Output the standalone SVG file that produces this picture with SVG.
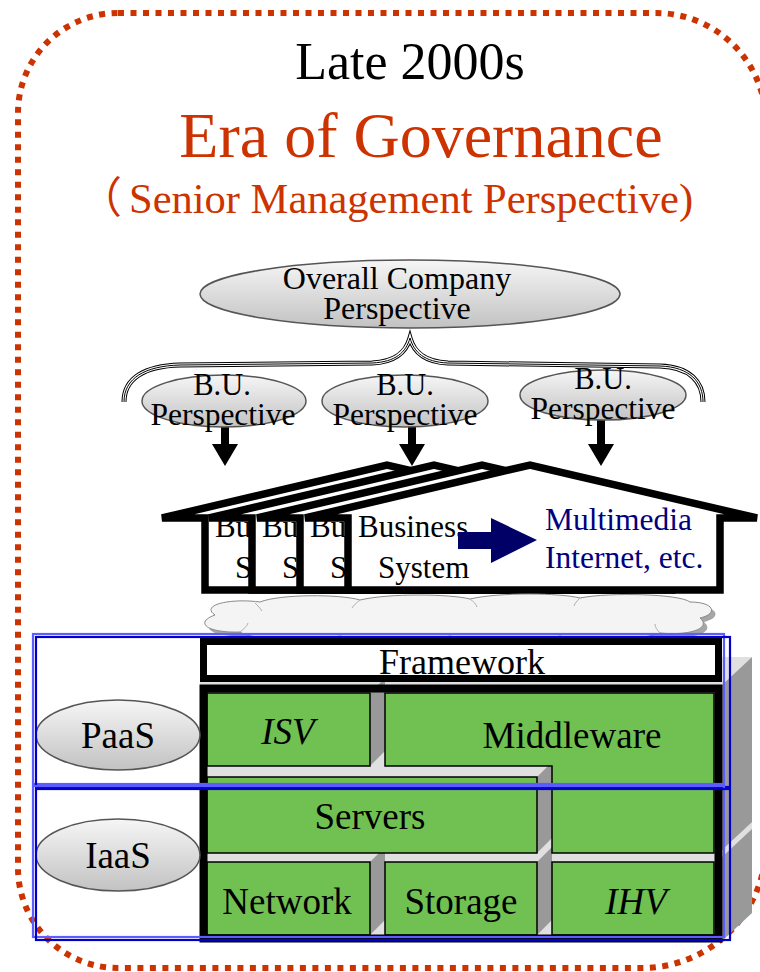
<svg xmlns="http://www.w3.org/2000/svg" width="760" height="972" viewBox="0 0 760 972">
<defs>
<linearGradient id="eg" x1="0" y1="0" x2="0" y2="1">
<stop offset="0" stop-color="#f6f6f6"/>
<stop offset="1" stop-color="#c2c2c2"/>
</linearGradient>
<style>
.t{font-family:"Liberation Serif","Times New Roman",serif;fill:#000}
.red{fill:#cc3300}
.navy{fill:#000080}
.ell{fill:url(#eg);stroke:#555;stroke-width:1.5}
.house{fill:#fff;stroke:#000;stroke-width:7.5;stroke-linejoin:miter}
.grn{fill:#71c152;stroke:#000;stroke-width:1.5}
.side{fill:#999}
.top{fill:#e0e0e0}
.lb{fill:none;stroke:#5c5cff;stroke-width:2.2}
.db{fill:none;stroke:#0000c8;stroke-width:2.2}
.arr{fill:#000}
</style>
</defs>
<rect width="760" height="972" fill="#fff"/>

<!-- dotted border -->
<path id="border" d="M118,13 H656 A110,110 0 0 1 766,123 V848 A124,124 0 0 1 642,968 H118 A100,100 0 0 1 18,868 V113 A100,100 0 0 1 118,13 Z" fill="none" stroke="#cc3300" stroke-width="6" stroke-dasharray="6 6.5"/>

<!-- titles -->
<g id="title">
<text class="t" x="410" y="79" font-size="52" text-anchor="middle">Late 2000s</text>
<text class="t red" x="421" y="157" font-size="64" text-anchor="middle">Era of Governance</text>
<text x="79" y="213" font-size="43" font-family="Noto Sans CJK JP,sans-serif" fill="#cc3300">（</text>
<text class="t red" x="129" y="213" font-size="42.5">Senior Management Perspective)</text>
</g>

<!-- connectors -->
<g id="connectors">
<g fill="none" stroke-linecap="butt">
<path d="M124,402 C124,378 145,366 180,365 L372,363 C396,362 406,352 410,338 C414,352 424,362 448,363 L660,366 C690,367 703,382 703,402" stroke="#000" stroke-width="5"/>
<path d="M124,402 C124,378 145,366 180,365 L372,363 C396,362 406,352 410,338 C414,352 424,362 448,363 L660,366 C690,367 703,382 703,402" stroke="#fff" stroke-width="3"/>
<path d="M124,402 C124,378 145,366 180,365 L372,363 C396,362 406,352 410,338 C414,352 424,362 448,363 L660,366 C690,367 703,382 703,402" stroke="#000" stroke-width="1"/>
</g>
<path class="arr" d="M221,425 h8 v19 h9 l-13,22 l-13,-22 h9 Z"/>
<path class="arr" d="M408,425 h8 v19 h9 l-13,22 l-13,-22 h9 Z"/>
<path class="arr" d="M597,420 h8 v24 h9 l-13,22 l-13,-22 h9 Z"/>
</g>

<!-- perspectives -->
<g id="overall">
<ellipse class="ell" cx="410" cy="294" rx="210" ry="34"/>
<text class="t" x="397" y="289" font-size="32" text-anchor="middle">Overall Company</text>
<text class="t" x="397" y="319" font-size="32" text-anchor="middle">Perspective</text>
</g>
<g id="bu1">
<ellipse class="ell" cx="224" cy="401" rx="82" ry="26"/>
<text class="t" x="222" y="395" font-size="30.5" text-anchor="middle">B.U.</text>
<text class="t" x="223" y="425" font-size="31.5" text-anchor="middle">Perspective</text>
</g>
<g id="bu2">
<ellipse class="ell" cx="405" cy="401" rx="83" ry="26"/>
<text class="t" x="405" y="395" font-size="30.5" text-anchor="middle">B.U.</text>
<text class="t" x="405" y="425" font-size="31.5" text-anchor="middle">Perspective</text>
</g>
<g id="bu3">
<ellipse class="ell" cx="603" cy="395" rx="83" ry="25"/>
<text class="t" x="603" y="389" font-size="30.5" text-anchor="middle">B.U.</text>
<text class="t" x="603" y="419" font-size="31.5" text-anchor="middle">Perspective</text>
</g>

<!-- houses -->
<g id="houses">
<g id="house1">
<path class="house" d="M162,518 L387,465 L614,518 L577,518 L577,590 L205,590 L205,518 Z"/>
<text class="t" x="215" y="537" font-size="31">Bu</text>
<text class="t" x="235" y="578" font-size="31">S</text>
</g>
<g id="house2">
<path class="house" d="M209,518 L434,465 L661,518 L624,518 L624,590 L252,590 L252,518 Z"/>
<text class="t" x="262" y="537" font-size="31">Bu</text>
<text class="t" x="282" y="578" font-size="31">S</text>
</g>
<g id="house3">
<path class="house" d="M257,518 L482,465 L709,518 L672,518 L672,590 L300,590 L300,518 Z"/>
<text class="t" x="310" y="537" font-size="31">Bu</text>
<text class="t" x="330" y="578" font-size="31">S</text>
</g>
<g id="house4">
<path class="house" d="M305,518 L530,465 L757,518 L720,518 L720,590 L348,590 L348,518 Z"/>
<text class="t" x="358" y="537" font-size="31">Business</text>
<text class="t" x="378" y="578" font-size="31">System</text>
<path d="M458,532 H491 V518 L537,540 L491,563 V549 H458 Z" fill="#000066"/>
<text class="t navy" x="545" y="530" font-size="31.5">Multimedia</text>
<text class="t navy" x="545" y="568" font-size="31.5">Internet, etc.</text>
</g>
</g>

<!-- cloud -->
<g id="cloud">
<path transform="translate(4,4)" fill="#a6a6a6" d="M215,615 C200,605 230,598 260,602 C280,594 340,594 360,600 C390,593 450,594 470,599 C500,592 560,593 580,598 C610,592 680,594 690,602 C715,602 718,614 700,618 C712,628 690,636 660,633 C640,641 580,642 560,636 C530,642 470,642 450,636 C420,642 360,642 340,636 C310,642 250,640 240,632 C205,633 195,622 215,615 Z"/>
<path fill="#f4f4f4" stroke="#8a8a8a" stroke-width="1" d="M215,615 C200,605 230,598 260,602 C280,594 340,594 360,600 C390,593 450,594 470,599 C500,592 560,593 580,598 C610,592 680,594 690,602 C715,602 718,614 700,618 C712,628 690,636 660,633 C640,641 580,642 560,636 C530,642 470,642 450,636 C420,642 360,642 340,636 C310,642 250,640 240,632 C205,633 195,622 215,615 Z"/>
<g fill="none" stroke="#b0b0b0" stroke-width="1">
<path d="M255,603 C258,606 260,608 262,611"/>
<path d="M360,600 C356,603 354,605 352,608"/>
<path d="M470,599 C474,602 476,604 477,607"/>
<path d="M580,598 C577,601 575,603 574,606"/>
<path d="M240,632 C244,629 247,626 248,623"/>
<path d="M660,633 C657,630 655,627 655,624"/>
</g>
</g>

<!-- extrusion of main stack -->
<g id="extrusion">
<rect class="top" x="200" y="678" width="522" height="8"/>
<path class="top" d="M722,657 H752 L722,685 Z"/>
<path class="side" d="M722,685 L752,657 V913 L722,941 Z"/>
<path class="top" d="M722,850 L752,822 V829 L722,857 Z"/>
</g>

<!-- stack -->
<g id="stack">
<rect class="top" x="207" y="692" width="508" height="243"/>
<path class="side" d="M370,693 L385,678 V751 L370,766 Z"/>
<path class="side" d="M537,777 L552,762 V838 L537,853 Z"/>
<path class="side" d="M370,862 L385,847 V920 L370,935 Z"/>
<path class="side" d="M537,862 L552,847 V920 L537,935 Z"/>
</g>
<g id="isv">
<rect class="grn" x="207" y="693" width="163" height="73"/>
<text class="t" x="288" y="744" font-size="37" font-style="italic" text-anchor="middle">ISV</text>
</g>
<g id="middleware">
<path class="grn" d="M385,693 H714 V853 H552 V766 H385 Z"/>
<text class="t" x="572" y="748" font-size="37" text-anchor="middle">Middleware</text>
</g>
<g id="servers">
<rect class="grn" x="207" y="777" width="330" height="76"/>
<text class="t" x="370" y="829" font-size="37" text-anchor="middle">Servers</text>
</g>
<g id="network">
<rect class="grn" x="207" y="862" width="163" height="73"/>
<text class="t" x="287" y="914" font-size="37" text-anchor="middle">Network</text>
</g>
<g id="storage">
<rect class="grn" x="385" y="862" width="152" height="73"/>
<text class="t" x="461" y="914" font-size="37" text-anchor="middle">Storage</text>
</g>
<g id="ihv">
<rect class="grn" x="552" y="862" width="162" height="73"/>
<text class="t" x="636" y="914" font-size="37" font-style="italic" text-anchor="middle">IHV</text>
</g>
<rect id="frame" x="203.5" y="688.5" width="515" height="250" fill="none" stroke="#000" stroke-width="8"/>
<g id="framework">
<rect x="203.5" y="641.5" width="515" height="37" fill="#fff" stroke="#000" stroke-width="7"/>
<text class="t" x="462" y="674" font-size="36" text-anchor="middle">Framework</text>
</g>

<!-- layer labels -->
<g id="paas">
<ellipse class="ell" cx="118" cy="735" rx="82" ry="35"/>
<text class="t" x="118" y="748" font-size="37" text-anchor="middle">PaaS</text>
</g>
<g id="iaas">
<ellipse class="ell" cx="118" cy="855" rx="82" ry="36"/>
<text class="t" x="118" y="868" font-size="37" text-anchor="middle">IaaS</text>
</g>

<!-- blue layer boxes -->
<g id="paas-box">
<rect class="lb" x="33" y="634" width="691" height="150"/>
<rect class="db" x="36" y="637" width="694" height="150"/>
</g>
<g id="iaas-box">
<rect class="lb" x="33" y="786" width="691" height="151"/>
<rect class="db" x="36" y="789" width="694" height="151"/>
</g>
</svg>
